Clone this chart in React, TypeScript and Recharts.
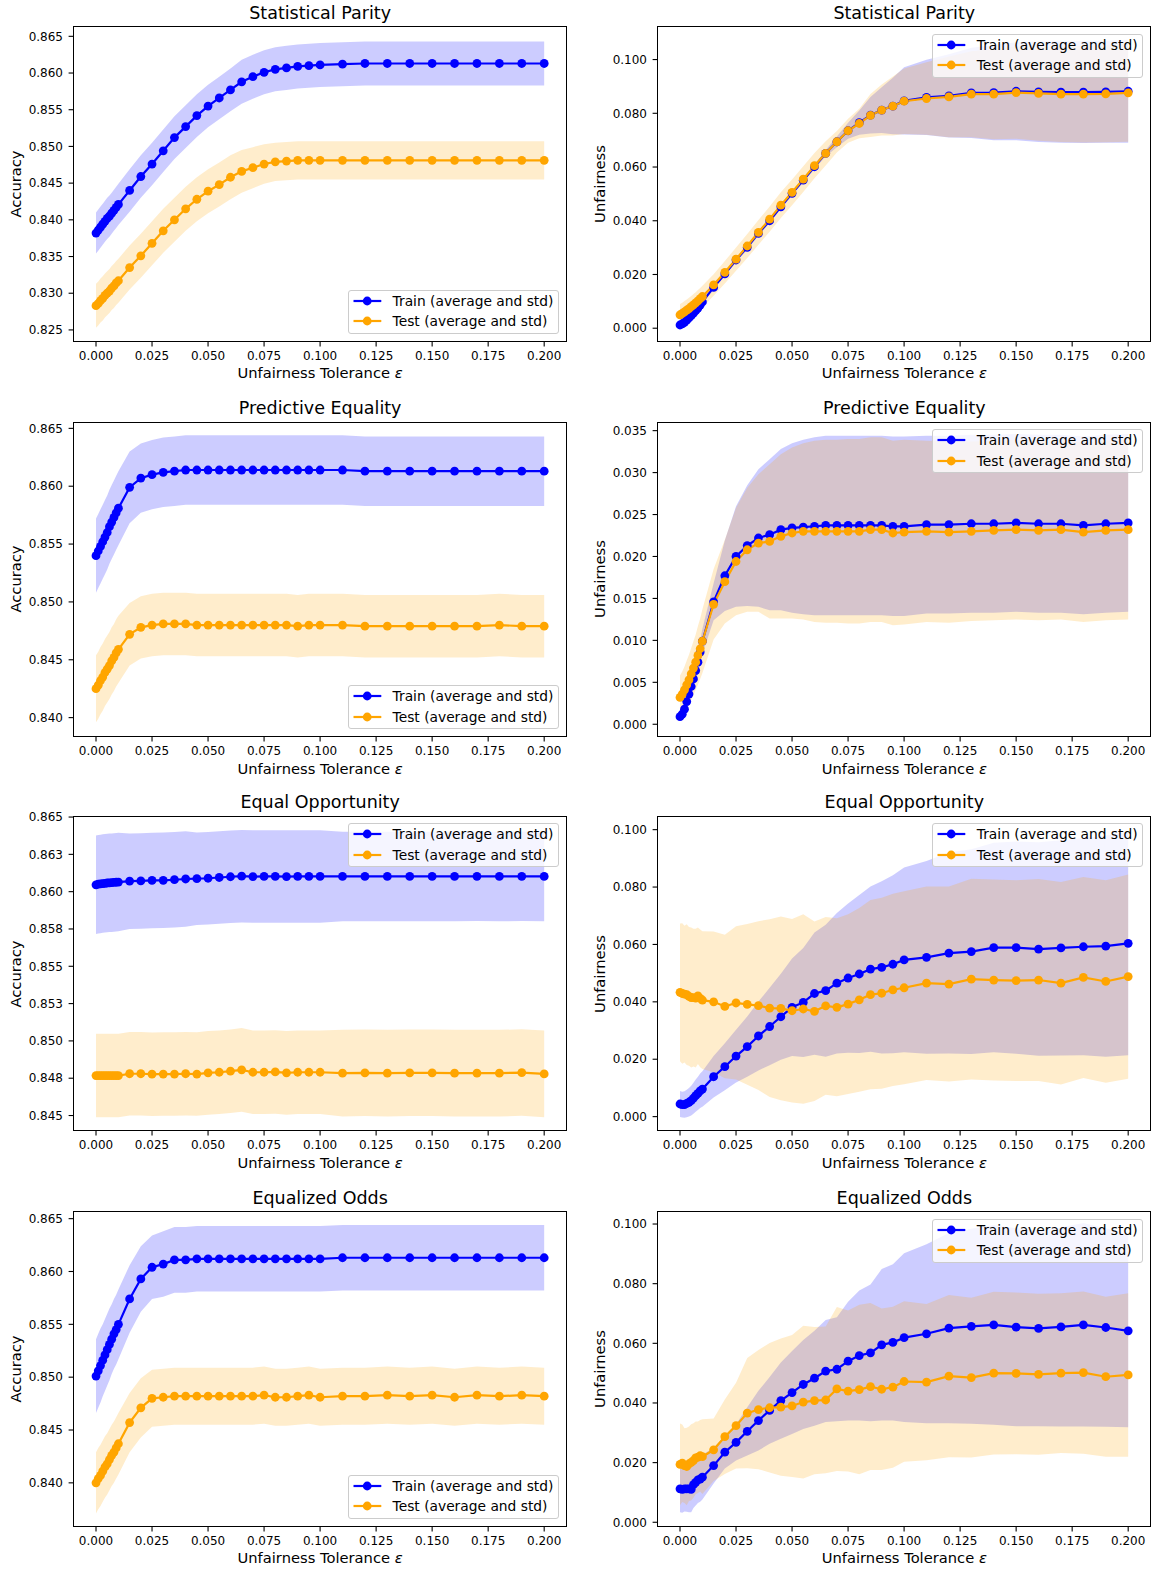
import React from 'react';
import { ComposedChart, Area, Line, XAxis, YAxis } from 'recharts';

// epsilon grid shared by every panel
const EPS = [
  0, 0.001, 0.002, 0.003, 0.004, 0.005, 0.006, 0.007, 0.008, 0.009, 0.01,
  0.015, 0.02, 0.025, 0.03, 0.035, 0.04, 0.045, 0.05, 0.055, 0.06, 0.065, 0.07, 0.075, 0.08, 0.085, 0.09, 0.095, 0.1,
  0.11, 0.12, 0.13, 0.14, 0.15, 0.16, 0.17, 0.18, 0.19, 0.2,
];
const X_TICKS = [0, 0.025, 0.05, 0.075, 0.1, 0.125, 0.15, 0.175, 0.2];

// Statistical Parity - accuracy
const SP_ACC_TRAIN = [
  0.8382, 0.8386, 0.839, 0.8394, 0.8398, 0.8402, 0.8405, 0.8409, 0.8413, 0.8417, 0.8421,
  0.844, 0.8459, 0.8476, 0.8494, 0.8512, 0.8527, 0.8542, 0.8555, 0.8566, 0.8577, 0.8588, 0.8595, 0.8601, 0.8605, 0.8607, 0.8609, 0.861, 0.8611,
  0.8612, 0.8613, 0.8613, 0.8613, 0.8613, 0.8613, 0.8613, 0.8613, 0.8613, 0.8613,
];
const SP_ACC_TRAIN_STD = [
  0.0028, 0.0028, 0.0028, 0.0028, 0.0028, 0.0028, 0.0028, 0.0028, 0.0028, 0.0028, 0.0028,
  0.0029, 0.0029, 0.0029, 0.0029, 0.0029, 0.0029, 0.0029, 0.0029, 0.0029, 0.0029, 0.003, 0.003, 0.003, 0.003, 0.003, 0.003, 0.003, 0.003,
  0.003, 0.003, 0.003, 0.003, 0.003, 0.003, 0.003, 0.003, 0.003, 0.003,
];
const SP_ACC_TEST = [
  0.8283, 0.8286, 0.829, 0.8293, 0.8297, 0.83, 0.8303, 0.8307, 0.831, 0.8314, 0.8317,
  0.8335, 0.8351, 0.8368, 0.8385, 0.84, 0.8415, 0.8428, 0.8439, 0.8448, 0.8458, 0.8466, 0.8471, 0.8476, 0.8479, 0.848, 0.8481, 0.8481, 0.8481,
  0.8481, 0.8481, 0.8481, 0.8481, 0.8481, 0.8481, 0.8481, 0.8481, 0.8481, 0.8481,
];
const SP_ACC_TEST_STD = [
  0.003, 0.003, 0.003, 0.003, 0.003, 0.003, 0.003, 0.003, 0.003, 0.003, 0.003,
  0.003, 0.003, 0.003, 0.003, 0.003, 0.003, 0.003, 0.003, 0.003, 0.003, 0.0029, 0.0028, 0.0027, 0.0026, 0.0026, 0.0026, 0.0026, 0.0026,
  0.0026, 0.0026, 0.0026, 0.0026, 0.0026, 0.0026, 0.0026, 0.0026, 0.0026, 0.0026,
];

// Statistical Parity - unfairness
const SP_UNF_TRAIN = [
  0.0012, 0.0016, 0.0022, 0.003, 0.0038, 0.0047, 0.0056, 0.0065, 0.0075, 0.0086, 0.0098,
  0.0152, 0.0202, 0.0254, 0.0301, 0.0353, 0.04, 0.0452, 0.0502, 0.0551, 0.0601, 0.0651, 0.0694, 0.0735, 0.0765, 0.0793, 0.0812, 0.0827, 0.0846,
  0.0859, 0.0865, 0.0876, 0.0877, 0.0882, 0.088, 0.0879, 0.0879, 0.088, 0.0882,
];
const SP_UNF_TRAIN_STD = [
  0.0008, 0.0008, 0.0008, 0.0008, 0.0008, 0.0008, 0.0008, 0.0008, 0.0008, 0.0008, 0.0008,
  0.0008, 0.0008, 0.0008, 0.0008, 0.0008, 0.0008, 0.0008, 0.0008, 0.0008, 0.0008, 0.0012, 0.002, 0.003, 0.0045, 0.0068, 0.0085, 0.0105, 0.0125,
  0.014, 0.0155, 0.0168, 0.0177, 0.0182, 0.0187, 0.0189, 0.019, 0.019, 0.0192,
];
const SP_UNF_TEST = [
  0.005, 0.0055, 0.0061, 0.0067, 0.0073, 0.008, 0.0087, 0.0094, 0.0102, 0.011, 0.0118,
  0.0161, 0.0208, 0.0257, 0.0306, 0.0357, 0.0406, 0.0458, 0.0506, 0.0555, 0.0605, 0.0651, 0.0694, 0.0735, 0.0762, 0.0792, 0.0812, 0.0827, 0.0845,
  0.0855, 0.0861, 0.0871, 0.0871, 0.0877, 0.0874, 0.0871, 0.0871, 0.0872, 0.0876,
];
const SP_UNF_TEST_STD = [
  0.004, 0.004, 0.004, 0.004, 0.004, 0.004, 0.004, 0.004, 0.004, 0.004, 0.004,
  0.004, 0.0042, 0.0043, 0.0045, 0.0046, 0.0047, 0.0048, 0.0048, 0.0048, 0.0047, 0.0045, 0.004, 0.0045, 0.0055, 0.008, 0.0095, 0.011, 0.0122,
  0.0135, 0.015, 0.016, 0.0168, 0.0172, 0.0176, 0.0178, 0.018, 0.018, 0.0182,
];

// Predictive Equality - accuracy
const PE_ACC_TRAIN = [
  0.854, 0.8544, 0.8548, 0.8552, 0.8556, 0.856, 0.8565, 0.8569, 0.8573, 0.8577, 0.8581,
  0.8599, 0.8607, 0.861, 0.8612, 0.8613, 0.8614, 0.8614, 0.8614, 0.8614, 0.8614, 0.8614, 0.8614, 0.8614, 0.8614, 0.8614, 0.8614, 0.8614, 0.8614,
  0.8614, 0.8613, 0.8613, 0.8613, 0.8613, 0.8613, 0.8613, 0.8613, 0.8613, 0.8613,
];
const PE_ACC_TRAIN_STD = [
  0.0032, 0.0032, 0.0032, 0.0032, 0.0032, 0.0032, 0.0032, 0.0032, 0.0032, 0.0032, 0.0032,
  0.0031, 0.003, 0.003, 0.003, 0.003, 0.003, 0.003, 0.003, 0.003, 0.003, 0.003, 0.003, 0.003, 0.003, 0.003, 0.003, 0.003, 0.003,
  0.003, 0.003, 0.003, 0.003, 0.003, 0.003, 0.003, 0.003, 0.003, 0.003,
];
const PE_ACC_TEST = [
  0.8425, 0.8428, 0.8432, 0.8435, 0.8439, 0.8442, 0.8445, 0.8449, 0.8452, 0.8456, 0.8459,
  0.8472, 0.8478, 0.848, 0.8481, 0.8481, 0.8481, 0.848, 0.848, 0.848, 0.848, 0.848, 0.848, 0.848, 0.848, 0.848, 0.8479, 0.848, 0.848,
  0.848, 0.8479, 0.8479, 0.8479, 0.8479, 0.8479, 0.8479, 0.848, 0.8479, 0.8479,
];
const PE_ACC_TEST_STD = [
  0.0029, 0.0029, 0.0029, 0.0029, 0.0029, 0.0029, 0.0029, 0.0029, 0.0029, 0.0029, 0.0029,
  0.0027, 0.0027, 0.0027, 0.0027, 0.0027, 0.0027, 0.0027, 0.0027, 0.0027, 0.0027, 0.0027, 0.0027, 0.0027, 0.0027, 0.0027, 0.0027, 0.0027, 0.0027,
  0.0027, 0.0027, 0.0027, 0.0027, 0.0027, 0.0027, 0.0027, 0.0027, 0.0027, 0.0027,
];

// Predictive Equality - unfairness
const PE_UNF_TRAIN = [
  0.0009, 0.0012, 0.0018, 0.0027, 0.0036, 0.0045, 0.0054, 0.0064, 0.0074, 0.0086, 0.0099,
  0.0146, 0.0177, 0.02, 0.0213, 0.0222, 0.0226, 0.0232, 0.0234, 0.0235, 0.0236, 0.0237, 0.0237, 0.0237, 0.0237, 0.0237, 0.0237, 0.0236, 0.0236,
  0.0238, 0.0238, 0.0239, 0.0239, 0.024, 0.0239, 0.0239, 0.0237, 0.0239, 0.024,
];
const PE_UNF_TRAIN_STD = [
  0.0005, 0.0006, 0.0007, 0.0008, 0.0009, 0.001, 0.0011, 0.0012, 0.0013, 0.0014, 0.0015,
  0.0022, 0.0042, 0.006, 0.0072, 0.0082, 0.009, 0.0096, 0.0101, 0.0104, 0.0106, 0.0107, 0.0107, 0.0107, 0.0107, 0.0107, 0.0107, 0.0107, 0.0107,
  0.0106, 0.0106, 0.0106, 0.0106, 0.0106, 0.0106, 0.0106, 0.0106, 0.0106, 0.0106,
];
const PE_UNF_TEST = [
  0.0032, 0.0036, 0.0041, 0.0047, 0.0053, 0.006, 0.0067, 0.0074, 0.0082, 0.009, 0.0099,
  0.0143, 0.017, 0.0194, 0.0208, 0.0216, 0.0218, 0.0224, 0.0228, 0.023, 0.023, 0.023, 0.023, 0.023, 0.023, 0.0232, 0.0232, 0.0228, 0.0229,
  0.023, 0.0229, 0.023, 0.0231, 0.0232, 0.0231, 0.0232, 0.0229, 0.0231, 0.0232,
];
const PE_UNF_TEST_STD = [
  0.0026, 0.0027, 0.0028, 0.0029, 0.003, 0.0031, 0.0032, 0.0033, 0.0035, 0.0036, 0.0038,
  0.0042, 0.005, 0.0064, 0.0074, 0.0082, 0.0092, 0.0098, 0.0102, 0.0105, 0.0108, 0.0109, 0.0109, 0.011, 0.011, 0.011, 0.011, 0.011, 0.011,
  0.0108, 0.0108, 0.0107, 0.0107, 0.0107, 0.0107, 0.0107, 0.0107, 0.0107, 0.0107,
];

// Equal Opportunity - accuracy
const EO_ACC_TRAIN = [
  0.86046, 0.8605, 0.86052, 0.86054, 0.86056, 0.86058, 0.86059, 0.8606, 0.86062, 0.86063, 0.86064,
  0.8607, 0.86072, 0.86075, 0.86076, 0.8608, 0.86085, 0.86087, 0.8609, 0.86095, 0.861, 0.86104, 0.86101, 0.86102, 0.86102, 0.86101, 0.86102, 0.86102, 0.86102,
  0.86102, 0.86102, 0.86102, 0.86102, 0.86102, 0.86102, 0.86103, 0.86102, 0.86103, 0.86102,
];
const EO_ACC_TRAIN_STD = [
  0.0033, 0.0033, 0.0033, 0.0033, 0.0033, 0.0033, 0.0033, 0.0033, 0.0033, 0.0033, 0.0033,
  0.0032, 0.0032, 0.0032, 0.0032, 0.0032, 0.0032, 0.0031, 0.0031, 0.0031, 0.0031, 0.0031, 0.0031, 0.0031, 0.0031, 0.0031, 0.0031, 0.0031, 0.0031,
  0.003, 0.003, 0.003, 0.003, 0.003, 0.003, 0.003, 0.003, 0.003, 0.003,
];
const EO_ACC_TEST = [
  0.84768, 0.84768, 0.84768, 0.84768, 0.84768, 0.84768, 0.84768, 0.84768, 0.84768, 0.84768, 0.84768,
  0.8478, 0.8478, 0.84777, 0.84778, 0.84778, 0.8478, 0.84778, 0.84786, 0.8479, 0.84797, 0.84806, 0.8479, 0.8479, 0.84792, 0.84786, 0.8479, 0.8479, 0.8479,
  0.84784, 0.84786, 0.84784, 0.84786, 0.84786, 0.84784, 0.84784, 0.84784, 0.84788, 0.84779,
];
const EO_ACC_TEST_STD = [
  0.0028, 0.0028, 0.0028, 0.0028, 0.0028, 0.0028, 0.0028, 0.0028, 0.0028, 0.0028, 0.0028,
  0.0028, 0.0028, 0.0028, 0.0028, 0.0028, 0.0028, 0.0028, 0.0028, 0.0028, 0.0028, 0.0028, 0.0028, 0.0028, 0.0028, 0.0028, 0.0028, 0.0028, 0.0028,
  0.0029, 0.0029, 0.0029, 0.0029, 0.0029, 0.0029, 0.0029, 0.0029, 0.0029, 0.0029,
];

// Equal Opportunity - unfairness
const EO_UNF_TRAIN = [
  0.0044, 0.0042, 0.0042, 0.0046, 0.005, 0.0056, 0.0064, 0.0073, 0.0081, 0.009, 0.0096,
  0.0139, 0.0174, 0.0211, 0.0244, 0.0281, 0.0314, 0.0348, 0.0381, 0.0398, 0.0429, 0.0439, 0.0465, 0.0483, 0.0497, 0.0514, 0.052, 0.0531, 0.0546,
  0.0555, 0.057, 0.0575, 0.0589, 0.0589, 0.0584, 0.0588, 0.0592, 0.0594, 0.0604,
];
const EO_UNF_TRAIN_STD = [
  0.0045, 0.0045, 0.0046, 0.0048, 0.005, 0.0052, 0.0054, 0.0056, 0.0058, 0.006, 0.0062,
  0.0072, 0.0082, 0.0092, 0.0105, 0.012, 0.0135, 0.015, 0.017, 0.019, 0.0213, 0.023, 0.0245, 0.026, 0.0275, 0.0288, 0.03, 0.031, 0.0322,
  0.0336, 0.035, 0.0357, 0.0365, 0.037, 0.0372, 0.0375, 0.0378, 0.0385, 0.039,
];
const EO_UNF_TEST = [
  0.0433, 0.0429, 0.0427, 0.0425, 0.0419, 0.0415, 0.0415, 0.0413, 0.0421, 0.0412, 0.0406,
  0.04, 0.0384, 0.0396, 0.0391, 0.0387, 0.0378, 0.0377, 0.0369, 0.0375, 0.0367, 0.0386, 0.0381, 0.0392, 0.0407, 0.0425, 0.043, 0.0442, 0.0449,
  0.0465, 0.0462, 0.0479, 0.0476, 0.0474, 0.0476, 0.0465, 0.0485, 0.0471, 0.0488,
];
const EO_UNF_TEST_STD = [
  0.024, 0.0245, 0.0238, 0.0245, 0.0242, 0.0244, 0.024, 0.0242, 0.0238, 0.024, 0.024,
  0.0245, 0.025, 0.0267, 0.028, 0.0294, 0.031, 0.032, 0.032, 0.033, 0.0313, 0.031, 0.031, 0.0313, 0.032, 0.033, 0.0333, 0.0335, 0.0336,
  0.0337, 0.034, 0.035, 0.035, 0.035, 0.0352, 0.0353, 0.035, 0.0353, 0.0356,
];

// Equalized Odds - accuracy
const EODDS_ACC_TRAIN = [
  0.8501, 0.8506, 0.8511, 0.8516, 0.8521, 0.8526, 0.8531, 0.8536, 0.8541, 0.8545, 0.855,
  0.8574, 0.8593, 0.8604, 0.8607, 0.8611, 0.8611, 0.8612, 0.8612, 0.8612, 0.8612, 0.8612, 0.8612, 0.8612, 0.8612, 0.8612, 0.8612, 0.8612, 0.8612,
  0.8613, 0.8613, 0.8613, 0.8613, 0.8613, 0.8613, 0.8613, 0.8613, 0.8613, 0.8613,
];
const EODDS_ACC_TRAIN_STD = [
  0.0035, 0.0035, 0.0035, 0.0034, 0.0034, 0.0034, 0.0034, 0.0033, 0.0033, 0.0033, 0.0033,
  0.0032, 0.0031, 0.003, 0.0031, 0.0031, 0.0031, 0.0031, 0.0031, 0.0031, 0.0031, 0.0031, 0.0031, 0.0031, 0.0031, 0.0031, 0.0031, 0.0031, 0.0031,
  0.0031, 0.0031, 0.0031, 0.0031, 0.0031, 0.0031, 0.0031, 0.0031, 0.0031, 0.0031,
];
const EODDS_ACC_TEST = [
  0.84, 0.8404, 0.8407, 0.8411, 0.8415, 0.8418, 0.8422, 0.8426, 0.8429, 0.8433, 0.8437,
  0.8457, 0.8471, 0.848, 0.8481, 0.8482, 0.8482, 0.8482, 0.8482, 0.8482, 0.8482, 0.8482, 0.8482, 0.8483, 0.8481, 0.8481, 0.8482, 0.8483, 0.8481,
  0.8482, 0.8482, 0.8483, 0.8482, 0.8483, 0.8481, 0.8483, 0.8482, 0.8483, 0.8482,
];
const EODDS_ACC_TEST_STD = [
  0.0029, 0.0029, 0.0029, 0.0029, 0.0029, 0.0029, 0.0029, 0.0029, 0.0029, 0.0029, 0.0029,
  0.0028, 0.0028, 0.0027, 0.0027, 0.0027, 0.0027, 0.0027, 0.0027, 0.0027, 0.0027, 0.0027, 0.0027, 0.0027, 0.0027, 0.0027, 0.0027, 0.0027, 0.0027,
  0.0027, 0.0027, 0.0027, 0.0027, 0.0027, 0.0027, 0.0027, 0.0027, 0.0027, 0.0027,
];

// Equalized Odds - unfairness
const EODDS_UNF_TRAIN = [
  0.0112, 0.011, 0.0112, 0.0112, 0.0112, 0.011, 0.0126, 0.0134, 0.0142, 0.0145, 0.0151,
  0.019, 0.0235, 0.0268, 0.0305, 0.0341, 0.0375, 0.0408, 0.0435, 0.0462, 0.0483, 0.0507, 0.0513, 0.054, 0.0559, 0.0568, 0.0595, 0.0603, 0.0619,
  0.0632, 0.0651, 0.0657, 0.0662, 0.0654, 0.065, 0.0655, 0.0662, 0.0653, 0.0642,
];
const EODDS_UNF_TRAIN_STD = [
  0.0078, 0.0078, 0.0076, 0.0077, 0.0078, 0.0076, 0.0078, 0.0078, 0.0077, 0.0076, 0.0075,
  0.006, 0.0055, 0.0061, 0.0081, 0.01, 0.0112, 0.0128, 0.0139, 0.0149, 0.0159, 0.0171, 0.0174, 0.0199, 0.0218, 0.0229, 0.0254, 0.0262, 0.0283,
  0.03, 0.0319, 0.0327, 0.0335, 0.0332, 0.0328, 0.0334, 0.0341, 0.0333, 0.0323,
];
const EODDS_UNF_TEST = [
  0.0194, 0.0198, 0.019, 0.0187, 0.0196, 0.0201, 0.0207, 0.0216, 0.0218, 0.0223, 0.022,
  0.0243, 0.0287, 0.0324, 0.0366, 0.0378, 0.0384, 0.0386, 0.039, 0.0403, 0.0408, 0.041, 0.0447, 0.044, 0.0445, 0.0455, 0.0446, 0.0453, 0.0472,
  0.047, 0.049, 0.0485, 0.05, 0.0499, 0.0496, 0.05, 0.0502, 0.0488, 0.0494,
];
const EODDS_UNF_TEST_STD = [
  0.0137, 0.013, 0.0125, 0.013, 0.0125, 0.0128, 0.0125, 0.0122, 0.012, 0.012, 0.0125,
  0.0105, 0.0125, 0.0144, 0.0185, 0.02, 0.0217, 0.023, 0.0238, 0.0256, 0.0247, 0.0246, 0.0275, 0.027, 0.0284, 0.028, 0.0271, 0.027, 0.0269,
  0.0262, 0.0272, 0.0268, 0.0273, 0.0271, 0.027, 0.0268, 0.0272, 0.0268, 0.0274,
];

// y axis ticks
const ACC_TICKS_A = [0.825, 0.83, 0.835, 0.84, 0.845, 0.85, 0.855, 0.86, 0.865];
const ACC_LABELS_A = ['0.825', '0.830', '0.835', '0.840', '0.845', '0.850', '0.855', '0.860', '0.865'];
const ACC_TICKS_B = [0.84, 0.845, 0.85, 0.855, 0.86, 0.865];
const ACC_LABELS_B = ['0.840', '0.845', '0.850', '0.855', '0.860', '0.865'];
const ACC_TICKS_C = [0.845, 0.8475, 0.85, 0.8525, 0.855, 0.8575, 0.86, 0.8625, 0.865];
const ACC_LABELS_C = ['0.845', '0.848', '0.850', '0.853', '0.855', '0.858', '0.860', '0.863', '0.865'];
const UNF_TICKS_A = [0, 0.02, 0.04, 0.06, 0.08, 0.1];
const UNF_LABELS_A = ['0.000', '0.020', '0.040', '0.060', '0.080', '0.100'];
const UNF_TICKS_B = [0, 0.005, 0.01, 0.015, 0.02, 0.025, 0.03, 0.035];
const UNF_LABELS_B = ['0.000', '0.005', '0.010', '0.015', '0.020', '0.025', '0.030', '0.035'];

const FONT = '"DejaVu Sans", Verdana, sans-serif';
const BLUE = '#0000ff';
const ORANGE = '#ffa500';
const SERIES = [
  { name: 'Train (average and std)', color: BLUE },
  { name: 'Test (average and std)', color: ORANGE },
];

const ROW_TOP = [26.7, 422, 816.3, 1211.7];
const PLOT_H = 314.6;
const COLS = [
  { chartLeft: 0, plotLeft: 73.6, plotRight: 566.6 },
  { chartLeft: 584.2, plotLeft: 657.8, plotRight: 1150.8 },
];
const PAD_TOP = 6;
const PAD_RIGHT = 5;
const X_AXIS_H = 34;

const PANELS = [
  { title: 'Statistical Parity', yLabel: 'Accuracy', row: 0, col: 0, legend: 'lower', domain: [0.82341, 0.86627], ticks: ACC_TICKS_A, labels: ACC_LABELS_A,
    train: SP_ACC_TRAIN, trainStd: SP_ACC_TRAIN_STD, test: SP_ACC_TEST, testStd: SP_ACC_TEST_STD },
  { title: 'Statistical Parity', yLabel: 'Unfairness', row: 0, col: 1, legend: 'upper', domain: [-0.00498, 0.11212], ticks: UNF_TICKS_A, labels: UNF_LABELS_A,
    train: SP_UNF_TRAIN, trainStd: SP_UNF_TRAIN_STD, test: SP_UNF_TEST, testStd: SP_UNF_TEST_STD },
  { title: 'Predictive Equality', yLabel: 'Accuracy', row: 1, col: 0, legend: 'lower', domain: [0.83836, 0.86555], ticks: ACC_TICKS_B, labels: ACC_LABELS_B,
    train: PE_ACC_TRAIN, trainStd: PE_ACC_TRAIN_STD, test: PE_ACC_TEST, testStd: PE_ACC_TEST_STD },
  { title: 'Predictive Equality', yLabel: 'Unfairness', row: 1, col: 1, legend: 'upper', domain: [-0.00147, 0.03603], ticks: UNF_TICKS_B, labels: UNF_LABELS_B,
    train: PE_UNF_TRAIN, trainStd: PE_UNF_TRAIN_STD, test: PE_UNF_TEST, testStd: PE_UNF_TEST_STD },
  { title: 'Equal Opportunity', yLabel: 'Accuracy', row: 2, col: 0, legend: 'upper', domain: [0.84399, 0.86507], ticks: ACC_TICKS_C, labels: ACC_LABELS_C,
    train: EO_ACC_TRAIN, trainStd: EO_ACC_TRAIN_STD, test: EO_ACC_TEST, testStd: EO_ACC_TEST_STD },
  { title: 'Equal Opportunity', yLabel: 'Unfairness', row: 2, col: 1, legend: 'upper', domain: [-0.00487, 0.10476], ticks: UNF_TICKS_A, labels: UNF_LABELS_A,
    train: EO_UNF_TRAIN, trainStd: EO_UNF_TRAIN_STD, test: EO_UNF_TEST, testStd: EO_UNF_TEST_STD },
  { title: 'Equalized Odds', yLabel: 'Accuracy', row: 3, col: 0, legend: 'lower', domain: [0.83586, 0.86563], ticks: ACC_TICKS_B, labels: ACC_LABELS_B,
    train: EODDS_ACC_TRAIN, trainStd: EODDS_ACC_TRAIN_STD, test: EODDS_ACC_TEST, testStd: EODDS_ACC_TEST_STD },
  { title: 'Equalized Odds', yLabel: 'Unfairness', row: 3, col: 1, legend: 'upper', domain: [-0.00145, 0.10403], ticks: UNF_TICKS_A, labels: UNF_LABELS_A,
    train: EODDS_UNF_TRAIN, trainStd: EODDS_UNF_TRAIN_STD, test: EODDS_UNF_TEST, testStd: EODDS_UNF_TEST_STD },
];

const LegendBox = ({ left, top }: { left: number; top: number }) => (
  <div
    style={{
      position: 'absolute', left, top, width: 211, height: 44, boxSizing: 'border-box',
      border: '1px solid #cccccc', borderRadius: 3, background: 'rgba(255,255,255,0.8)',
      fontFamily: FONT, fontSize: 13.8, color: '#000',
    }}
  >
    {SERIES.map((s, i) => (
      <div key={s.name} style={{ position: 'absolute', left: 0, top: i * 20.7, width: 209, height: 20, lineHeight: '20px', whiteSpace: 'nowrap' }}>
        <svg width={36} height={20} style={{ position: 'absolute', left: 0, top: 0 }}>
          <line x1={4.5} x2={32.3} y1={10} y2={10} stroke={s.color} strokeWidth={2.2} />
          <circle cx={18.2} cy={10} r={4.4} fill={s.color} />
        </svg>
        <span style={{ position: 'absolute', left: 43.4 }}>{s.name}</span>
      </div>
    ))}
  </div>
);

const Panel = ({ p }: { p: (typeof PANELS)[number] }) => {
  const { chartLeft, plotLeft, plotRight } = COLS[p.col];
  const plotTop = ROW_TOP[p.row];
  const plotBottom = plotTop + PLOT_H;
  const plotW = plotRight - plotLeft;
  const data = EPS.map((x, i) => ({
    x,
    train: p.train[i],
    trainBand: [p.train[i] - p.trainStd[i], p.train[i] + p.trainStd[i]],
    test: p.test[i],
    testBand: [p.test[i] - p.testStd[i], p.test[i] + p.testStd[i]],
  }));
  const tickStyle = { fill: '#000', fontSize: 12, fontFamily: FONT };
  const legendLeft = plotRight - 7.4 - 211;
  const legendTop = p.legend === 'lower' ? plotBottom - 7.7 - 44 : plotTop + 7;

  return (
    <>
      <div style={{ position: 'absolute', left: chartLeft, top: plotTop - PAD_TOP }}>
        <ComposedChart
          width={plotRight + PAD_RIGHT - chartLeft}
          height={PAD_TOP + PLOT_H + X_AXIS_H}
          data={data}
          margin={{ top: PAD_TOP, right: PAD_RIGHT, bottom: 0, left: 0 }}
        >
          <XAxis
            dataKey="x" type="number" domain={[-0.01, 0.21]} allowDataOverflow ticks={X_TICKS} interval={0}
            tickFormatter={(v: number) => v.toFixed(3)} height={X_AXIS_H} axisLine={false}
            tickLine={{ stroke: '#000', strokeWidth: 1.1 }} tickSize={5} tickMargin={5} tick={tickStyle}
          />
          <YAxis
            type="number" domain={p.domain} allowDataOverflow ticks={p.ticks} interval={0}
            tickFormatter={(v: number) => p.labels[p.ticks.indexOf(v)] ?? v.toFixed(3)}
            width={plotLeft - chartLeft} axisLine={false}
            tickLine={{ stroke: '#000', strokeWidth: 1.1 }} tickSize={5} tickMargin={5.6} tick={tickStyle}
          />
          <Area dataKey="trainBand" stroke="none" fill={BLUE} fillOpacity={0.2} activeDot={false} isAnimationActive={false} />
          <Area dataKey="testBand" stroke="none" fill={ORANGE} fillOpacity={0.2} activeDot={false} isAnimationActive={false} />
          <Line dataKey="train" stroke={BLUE} strokeWidth={2.2} dot={{ r: 4.4, fill: BLUE, stroke: BLUE, strokeWidth: 0 }} activeDot={false} isAnimationActive={false} />
          <Line dataKey="test" stroke={ORANGE} strokeWidth={2.2} dot={{ r: 4.4, fill: ORANGE, stroke: ORANGE, strokeWidth: 0 }} activeDot={false} isAnimationActive={false} />
        </ComposedChart>
      </div>
      <div
        style={{
          position: 'absolute', left: plotLeft - 0.5, top: plotTop - 0.5, width: plotW + 1, height: PLOT_H + 1,
          border: '1px solid #000', boxSizing: 'border-box', pointerEvents: 'none',
        }}
      />
      <div style={{ position: 'absolute', left: plotLeft, top: plotTop - 24.2, width: plotW, lineHeight: '20px', fontSize: 17.5, fontFamily: FONT, textAlign: 'center', color: '#000' }}>
        {p.title}
      </div>
      <div style={{ position: 'absolute', left: plotLeft, top: plotBottom + 23, width: plotW, lineHeight: '17.6px', fontSize: 14.7, fontFamily: FONT, textAlign: 'center', color: '#000' }}>
        Unfairness Tolerance <span style={{ fontStyle: 'italic' }}>ε</span>
      </div>
      <div
        style={{
          position: 'absolute', left: plotLeft - 58 - 100, top: plotTop + PLOT_H / 2 - 10, width: 200, height: 20,
          lineHeight: '20px', fontSize: 14.7, fontFamily: FONT, textAlign: 'center', color: '#000', transform: 'rotate(-90deg)',
        }}
      >
        {p.yLabel}
      </div>
      <LegendBox left={legendLeft} top={legendTop} />
    </>
  );
};

export default function App() {
  return (
    <div style={{ position: 'absolute', left: 0, top: 0, width: 1156, height: 1570, background: '#fff', overflow: 'hidden' }}>
      {PANELS.map((p) => (
        <Panel key={`${p.row}-${p.col}`} p={p} />
      ))}
    </div>
  );
}
